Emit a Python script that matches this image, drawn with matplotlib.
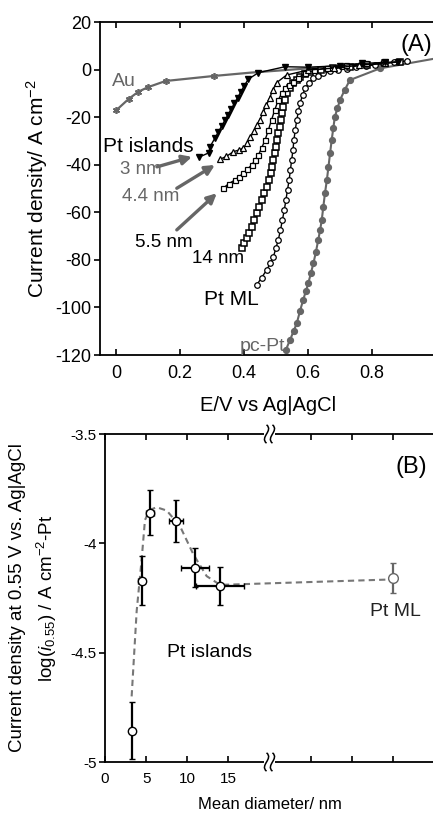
import numpy as np
import matplotlib.pyplot as plt
from matplotlib.path import Path
from matplotlib.patches import PathPatch, Rectangle

plt.rcParams['font.family'] = ['Liberation Sans', 'DejaVu Sans']
plt.rcParams['mathtext.fontset'] = 'custom'
plt.rcParams['mathtext.rm'] = 'Liberation Sans'
plt.rcParams['mathtext.it'] = 'Liberation Sans:italic'
plt.rcParams['axes.unicode_minus'] = False

GRIS = '#666666'

# ---------------------------------------------------------------------
# DADES (A): corbes de polarització
# ---------------------------------------------------------------------
au_E = [0.0, 0.04, 0.07, 0.10, 0.155, 0.305, 0.42, 0.55, 0.65, 0.75]
au_j = [-17.2, -12.3, -9.3, -7.4, -4.8, -2.7, -1.3, 0.0, 1.0, 2.2]

nm3_E = [0.26, 0.29, 0.294, 0.31, 0.32, 0.33, 0.34, 0.35, 0.36, 0.37, 0.38, 0.39,
         0.40, 0.413, 0.445, 0.528, 0.60, 0.70, 0.77, 0.84, 0.88]
nm3_j = [-36.8, -35.0, -32.4, -28.6, -26.2, -23.8, -21.4, -19.0, -16.6, -14.2,
         -11.8, -9.4, -7.0, -4.1, -1.3, 1.2, 1.0, 1.6, 2.6, 3.0, 3.3]

nm44_E = [0.325, 0.345, 0.367, 0.385, 0.398, 0.41, 0.42, 0.43, 0.44, 0.45, 0.46,
          0.47, 0.48, 0.49, 0.502, 0.533, 0.6, 0.68, 0.76, 0.84]
nm44_j = [-37.7, -36.5, -34.5, -33.8, -33.0, -31.0, -28.5, -26.0, -23.5, -21.0,
          -18.0, -15.0, -12.0, -8.5, -5.5, -2.3, -0.2, 0.6, 1.8, 2.8]

nm55_E = [0.335, 0.352, 0.372, 0.385, 0.398, 0.41, 0.424, 0.435, 0.445, 0.455,
          0.466, 0.476, 0.486, 0.496, 0.507, 0.518, 0.528, 0.54, 0.554, 0.57,
          0.59, 0.62, 0.66, 0.72, 0.78]
nm55_j = [-49.9, -48.0, -46.4, -45.0, -43.6, -42.0, -40.1, -38.0, -35.9, -33.0,
          -29.6, -25.5, -21.2, -17.0, -12.8, -10.0, -7.9, -6.5, -5.1, -3.5,
          -1.6, -0.3, 0.7, 1.8, 2.6]

nm14_E = [0.393, 0.401, 0.408, 0.416, 0.424, 0.432, 0.44, 0.448, 0.455, 0.463,
          0.471, 0.477, 0.483, 0.488, 0.492, 0.496, 0.5, 0.504, 0.507, 0.511,
          0.515, 0.519, 0.523, 0.529, 0.535, 0.545, 0.554, 0.565, 0.575, 0.59,
          0.606, 0.64, 0.679, 0.73, 0.783, 0.84, 0.888]
nm14_j = [-75.1, -73.0, -70.9, -68.5, -66.0, -63.2, -60.4, -57.6, -54.8, -52.0,
          -49.2, -46.4, -43.6, -40.8, -38.0, -35.2, -32.4, -29.6, -26.8, -24.0,
          -21.2, -18.4, -15.6, -12.8, -10.0, -7.9, -5.8, -4.4, -3.0, -1.9,
          -0.9, -0.2, 0.5, 1.2, 1.9, 2.6, 3.3]

ptml_E = [0.44, 0.455, 0.471, 0.482, 0.492, 0.5, 0.507, 0.514, 0.52, 0.526,
          0.531, 0.536, 0.541, 0.545, 0.549, 0.553, 0.556, 0.56, 0.565, 0.57,
          0.575, 0.583, 0.591, 0.603, 0.617, 0.632, 0.648, 0.67, 0.695, 0.721,
          0.75, 0.78, 0.81, 0.835, 0.87, 0.908]
ptml_j = [-90.5, -87.5, -84.2, -81.5, -78.6, -75.0, -71.6, -67.5, -63.2, -59.0,
          -54.8, -50.5, -46.4, -42.2, -38.0, -33.8, -29.6, -25.5, -21.2, -17.5,
          -14.2, -10.8, -7.9, -5.6, -3.7, -2.5, -1.6, -0.8, -0.2, 0.3,
          0.9, 1.5, 2.0, 2.6, 3.1, 3.6]

pcpt_E = [0.531, 0.544, 0.555, 0.565, 0.575, 0.585, 0.593, 0.601, 0.609, 0.617,
          0.625, 0.632, 0.638, 0.643, 0.648, 0.653, 0.659, 0.664, 0.669, 0.674,
          0.679, 0.684, 0.692, 0.7, 0.715, 0.731, 0.825, 1.0]
pcpt_j = [-117.8, -113.6, -110.0, -106.6, -101.5, -96.8, -93.3, -89.8, -85.6,
          -81.4, -76.5, -71.6, -67.4, -63.2, -57.6, -52.0, -46.4, -40.8, -35.2,
          -29.6, -24.7, -19.8, -16.3, -12.8, -8.5, -4.4, 0.5, 4.7]

# ---------------------------------------------------------------------
# DADES (B): log(i_0.55) vs diàmetre
# ---------------------------------------------------------------------
diam = [3.24, 4.45, 5.51, 8.63, 10.98, 13.97]
logi = [-4.857, -4.170, -3.859, -3.897, -4.111, -4.194]
err_y = [0.13, 0.11, 0.105, 0.095, 0.09, 0.087]
err_x = [0.0, 0.45, 0.5, 0.85, 1.7, 2.9]

ml_x = [35.0]
ml_y = [-4.158]
ml_err = [0.07]

guia_x = [3.24, 3.85, 4.45, 4.86, 5.47, 6.28, 7.5, 9.1, 10.74, 12.36, 14.0, 35.0]
guia_y = [-4.70, -4.31, -4.076, -3.893, -3.847, -3.835, -3.85, -3.92, -4.05,
          -4.15, -4.19, -4.165]


def estil_eixos(ax):
    for s in ax.spines.values():
        s.set_linewidth(1.3)
    ax.tick_params(axis='x', which='both', direction='in', top=True, length=4,
                   width=1.2, pad=7)
    ax.tick_params(axis='y', which='both', direction='out', length=4,
                   width=1.2, pad=2, right=True)


def ziga_zaga(ax, xd):
    # marca de trencament de l'eix (dalt i baix)
    x0 = ax.transLimits.transform((xd, 0))[0]
    for yb in (0.0, 1.0):
        ax.add_patch(Rectangle((x0 - 0.016, yb - 0.01), 0.032, 0.02,
                               transform=ax.transAxes, facecolor='white',
                               edgecolor='none', clip_on=False, zorder=5))
        for dx in (-0.009, 0.009):
            verts = [(x0 + dx, yb + 0.028), (x0 + dx + 0.022, yb + 0.01),
                     (x0 + dx - 0.022, yb - 0.01), (x0 + dx, yb - 0.028)]
            p = Path(verts, [Path.MOVETO, Path.CURVE4, Path.CURVE4, Path.CURVE4])
            ax.add_patch(PathPatch(p, transform=ax.transAxes, fill=False,
                                   lw=1.1, color='black', clip_on=False,
                                   zorder=6))


fig = plt.figure(figsize=(4.33, 8.14), dpi=100)

# ---------------------------------------------------------------------
# PANELL A
# ---------------------------------------------------------------------
axA = fig.add_axes([100 / 433, 459 / 814, 336 / 433, 333 / 814])
axA.plot(au_E, au_j, color=GRIS, lw=1.6, marker=(6, 2, 0), ms=5, mew=1.2,
         markevery=list(range(6)))
axA.plot(pcpt_E, pcpt_j, color=GRIS, lw=1.5, marker='o', ms=4.2,
         markevery=list(range(27)))
axA.plot(ptml_E, ptml_j, color='black', lw=1.0, marker='o', ms=4, mfc='white',
         mew=0.9)
axA.plot(nm14_E, nm14_j, color='black', lw=1.0, marker='s', ms=5, mfc='white',
         mew=1.1)
axA.plot(nm55_E, nm55_j, color='black', lw=1.0, marker='s', ms=3.6, mfc='white',
         mew=0.9)
axA.plot(nm44_E, nm44_j, color='black', lw=1.0, marker='^', ms=4.2, mfc='white',
         mew=0.9)
axA.plot(nm3_E, nm3_j, color='black', lw=1.0, marker='v', ms=4.6)

axA.set_xlim(-0.05, 1.0)
axA.set_ylim(-120, 20)
axA.set_xticks([0, 0.2, 0.4, 0.6, 0.8, 1.0])
axA.set_xticklabels(['0', '0.2', '0.4', '0.6', '0.8', ''])
axA.set_yticks(np.arange(-120, 21, 20))
estil_eixos(axA)
axA.tick_params(labelsize=13)
axA.set_xlabel('E/V vs Ag|AgCl', fontsize=14.5, labelpad=10)
axA.set_ylabel('Current density/ A cm$^{\\mathregular{-2}}$', fontsize=15,
               labelpad=4)

axA.text(0.94, 10.3, '(A)', fontsize=17, ha='center', va='center')
axA.text(0.10, -32.5, 'Pt islands', fontsize=15, ha='center', va='center')
axA.text(-0.013, -5.1, 'Au', fontsize=14, color=GRIS, ha='left', va='center')
axA.text(0.0125, -42.2, '3 nm', fontsize=13.5, color=GRIS, ha='left', va='center')
axA.text(0.018, -53.5, '4.4 nm', fontsize=13.5, color=GRIS, ha='left', va='center')
axA.text(0.06, -72.8, '5.5 nm', fontsize=13.5, ha='left', va='center')
axA.text(0.237, -79.3, '14 nm', fontsize=13.5, ha='left', va='center')
axA.text(0.275, -96.8, 'Pt ML', fontsize=15, ha='left', va='center')
axA.text(0.385, -116.5, 'pc-Pt', fontsize=14, color=GRIS, ha='left',
         va='center')

fletxes = [((0.128, -40.9), (0.2375, -36.7)),
           ((0.19, -49.9), (0.309, -40.1)),
           ((0.19, -67.4), (0.315, -52.0))]
for ini, fi in fletxes:
    axA.annotate('', xy=fi, xytext=ini,
                 arrowprops=dict(arrowstyle='-|>', color=GRIS, lw=2.4,
                                 mutation_scale=14, shrinkA=0, shrinkB=0))

# ---------------------------------------------------------------------
# PANELL B
# ---------------------------------------------------------------------
axB = fig.add_axes([105 / 433, 52 / 814, 329 / 433, 328 / 814])
axB.plot(guia_x, guia_y, color='#777777', lw=1.5, ls=(0, (3, 2)), zorder=1)
axB.errorbar(diam, logi, yerr=err_y, xerr=err_x, fmt='o', ms=6, mfc='white',
             mec='black', mew=1.0, ecolor='black', elinewidth=1.6, capsize=2.5,
             capthick=1.4, zorder=3)
axB.errorbar(ml_x, ml_y, yerr=ml_err, fmt='o', ms=7, mfc='white', mec=GRIS,
             mew=1.0, ecolor=GRIS, elinewidth=1.6, capsize=2.5, capthick=1.4,
             zorder=3)

axB.set_xlim(0, 40)
axB.set_ylim(-5, -3.5)
axB.set_xticks([0, 5, 10, 15, 25, 30, 35])
axB.set_xticklabels(['0', '5', '10', '15', '', '', ''])
axB.set_yticks([-5, -4.5, -4, -3.5])
axB.set_yticklabels(['-5', '-4.5', '-4', '-3.5'])
estil_eixos(axB)
axB.tick_params(labelsize=11)
axB.set_xlabel('Mean diameter/ nm', fontsize=12, labelpad=8)
axB.set_ylabel('Current density at 0.55 V vs. Ag|AgCl\n'
               'log($\\mathit{i}_{\\mathit{0.55}}$) / A cm$^{\\mathregular{-2}}$-Pt',
               fontsize=13.5, labelpad=8, linespacing=1.5)

axB.text(0.93, 0.90, '(B)', transform=axB.transAxes, fontsize=17,
         ha='center', va='center')
axB.text(7.5, -4.5, 'Pt islands', fontsize=14, ha='left', va='center')
axB.text(32.2, -4.314, 'Pt ML', fontsize=14, ha='left', va='center',
         color='#222222')

ziga_zaga(axB, 20.0)

fig.savefig('out.png', dpi=100)
